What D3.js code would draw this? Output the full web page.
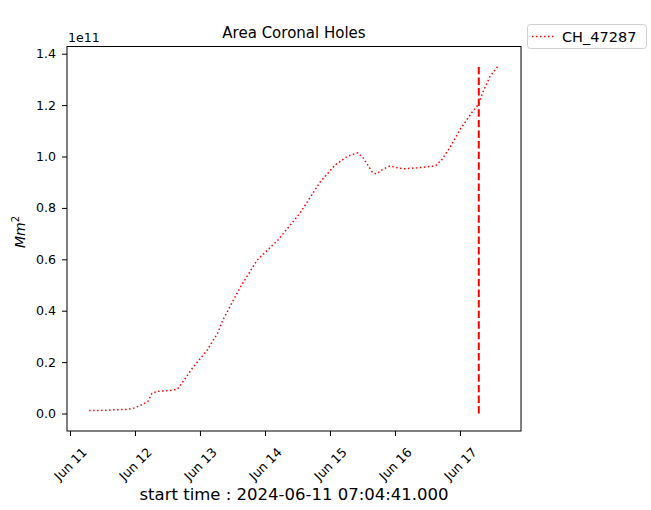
<!DOCTYPE html>
<html>
<head>
<meta charset="utf-8">
<script src="https://cdn.jsdelivr.net/npm/d3@7"></script>
<style>
  body { margin: 0; background: #fff; }
  text { font-family: "DejaVu Sans", sans-serif; fill: #000; }
</style>
</head>
<body>
<div id="chart"></div>
<script>
// Data (area in units of 1e11 Mm^2)
const times = [
  "2024-06-11 07:04", "2024-06-11 11:02", "2024-06-11 15:50", "2024-06-11 20:24",
  "2024-06-11 23:17", "2024-06-12 01:55", "2024-06-12 04:48", "2024-06-12 06:14",
  "2024-06-12 08:10", "2024-06-12 12:58", "2024-06-12 15:36", "2024-06-12 17:17",
  "2024-06-12 21:22", "2024-06-13 02:38", "2024-06-13 06:43", "2024-06-13 08:24",
  "2024-06-13 14:53", "2024-06-13 21:07", "2024-06-14 04:48", "2024-06-14 12:58",
  "2024-06-14 20:24", "2024-06-15 01:55", "2024-06-15 06:43", "2024-06-15 10:19",
  "2024-06-15 12:14", "2024-06-15 15:36", "2024-06-15 17:02", "2024-06-15 19:12",
  "2024-06-15 22:05", "2024-06-16 02:53", "2024-06-16 08:10", "2024-06-16 14:53",
  "2024-06-16 17:17", "2024-06-16 20:24", "2024-06-17 00:00", "2024-06-17 04:19",
  "2024-06-17 06:43", "2024-06-17 08:24", "2024-06-17 11:02", "2024-06-17 14:24"
];
const areas = [
  0.012, 0.012, 0.014, 0.016,
  0.020, 0.031, 0.047, 0.078,
  0.086, 0.090, 0.094, 0.117,
  0.179, 0.246, 0.316, 0.363,
  0.491, 0.597, 0.675, 0.780,
  0.901, 0.967, 1.002, 1.014,
  0.995, 0.940, 0.932, 0.948,
  0.963, 0.952, 0.956, 0.963,
  0.987, 1.037, 1.104, 1.170,
  1.201, 1.248, 1.310, 1.357
];
const markerTime = "2024-06-17 06:58";
const markerRange = [0, 1.361];
const seriesName = "CH_47287";
const yTicks = [0, 0.2, 0.4, 0.6, 0.8, 1.0, 1.2, 1.4];
const xTickDays = ["2024-06-11 00:00", "2024-06-12 00:00", "2024-06-13 00:00",
  "2024-06-14 00:00", "2024-06-15 00:00", "2024-06-16 00:00", "2024-06-17 00:00"];
const titleText = "Area Coronal Holes";
const xLabelText = "start time : 2024-06-11 07:04:41.000";

// Layout
const W = 651, H = 510;
const plot = { left: 67, right: 521, top: 46.5, bottom: 431 };

const parse = d3.timeParse("%Y-%m-%d %H:%M");
const data = times.map((t, i) => ({ t: parse(t), v: areas[i] }));

const svg = d3.select("#chart").append("svg")
  .attr("width", W).attr("height", H);

const x = d3.scaleTime()
  .domain([parse("2024-06-10 22:54"), parse("2024-06-17 22:33")])
  .range([plot.left, plot.right]);
const y = d3.scaleLinear()
  .domain([-0.068, 1.428])
  .range([plot.bottom, plot.top]);

// Axes
const xAxis = svg.append("g")
  .attr("transform", `translate(0,${plot.bottom})`)
  .call(d3.axisBottom(x).tickValues(xTickDays.map(parse)).tickSize(5).tickFormat(""));
xAxis.select(".domain").remove();
xAxis.selectAll("line").attr("stroke", "#000").attr("stroke-width", 1);

xAxis.selectAll(".tick").append("text")
  .attr("transform", "translate(0,33) rotate(-45)")
  .attr("text-anchor", "middle")
  .attr("dominant-baseline", "central")
  .style("font-size", "12.6px")
  .text(d => d3.timeFormat("Jun %-d")(d));

const yAxis = svg.append("g")
  .attr("transform", `translate(${plot.left},0)`)
  .call(d3.axisLeft(y).tickValues(yTicks).tickSize(5).tickPadding(6).tickFormat(d3.format(".1f")));
yAxis.select(".domain").remove();
yAxis.selectAll("line").attr("stroke", "#000").attr("stroke-width", 1);
yAxis.selectAll("text")
  .attr("fill", "#000")
  .style("font-size", "12.6px")
  .style("font-family", "DejaVu Sans");

// Frame
svg.append("rect")
  .attr("x", plot.left).attr("y", plot.top)
  .attr("width", plot.right - plot.left).attr("height", plot.bottom - plot.top)
  .attr("fill", "none").attr("stroke", "#000").attr("stroke-width", 1);

// Series
const line = d3.line().x(d => x(d.t)).y(d => y(d.v));
svg.append("path")
  .datum(data)
  .attr("d", line)
  .attr("fill", "none")
  .attr("stroke", "red")
  .attr("stroke-width", 1.5)
  .attr("stroke-dasharray", "1.5,2.5");

// Vertical marker
svg.append("line")
  .attr("x1", x(parse(markerTime))).attr("x2", x(parse(markerTime)))
  .attr("y1", y(markerRange[0])).attr("y2", y(markerRange[1]))
  .attr("stroke", "red")
  .attr("stroke-width", 2)
  .attr("stroke-dasharray", "7.4,3.2");

// Texts
svg.append("text")
  .attr("x", (plot.left + plot.right) / 2).attr("y", 38)
  .attr("text-anchor", "middle")
  .style("font-size", "15px")
  .text(titleText);

svg.append("text")
  .attr("x", plot.left + 1).attr("y", 42)
  .style("font-size", "12.6px")
  .text("1e11");

svg.append("text")
  .attr("x", (plot.left + plot.right) / 2).attr("y", 500)
  .attr("text-anchor", "middle")
  .style("font-size", "16.5px")
  .text(xLabelText);

const yl = svg.append("text")
  .attr("transform", "translate(25,232) rotate(-90)")
  .attr("text-anchor", "middle")
  .style("font-size", "14px")
  .style("font-style", "italic");
yl.append("tspan").text("Mm");
yl.append("tspan").attr("dy", -6).style("font-size", "10px").style("font-style", "normal").text("2");

// Legend
const lg = svg.append("g");
lg.append("rect")
  .attr("x", 527.5).attr("y", 24.5).attr("width", 119).attr("height", 24)
  .attr("rx", 3)
  .attr("fill", "#fff").attr("stroke", "#d0d0d0");
lg.append("line")
  .attr("x1", 532).attr("x2", 554).attr("y1", 36.5).attr("y2", 36.5)
  .attr("stroke", "red").attr("stroke-width", 1.5).attr("stroke-dasharray", "1.5,2.5");
lg.append("text")
  .attr("x", 562).attr("y", 41.5)
  .style("font-size", "14.5px")
  .text(seriesName);
</script>
</body>
</html>
